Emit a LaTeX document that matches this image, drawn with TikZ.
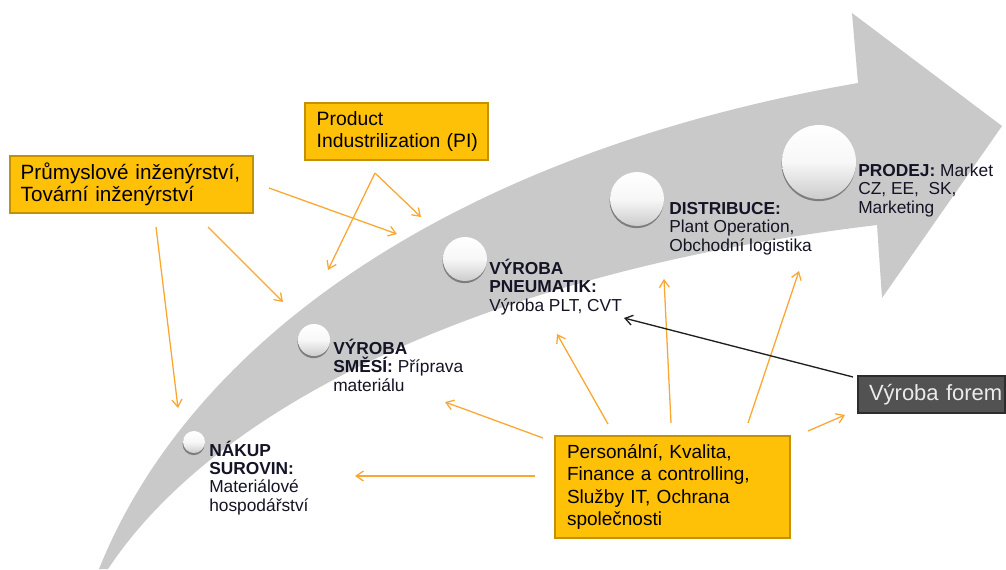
\documentclass[tikz,border=0pt]{standalone}
\usepackage{fontspec}
\setmainfont{Liberation Sans}
\usetikzlibrary{arrows.meta,calc,shadows}

\definecolor{arrowgray}{RGB}{201,201,201}
\definecolor{gold}{RGB}{255,192,8}
\definecolor{golddark}{RGB}{196,146,0}
\definecolor{goldedge}{RGB}{232,170,0}
\definecolor{linkorange}{RGB}{250,166,48}
\definecolor{labeltext}{RGB}{20,20,38}
\definecolor{moldgray}{RGB}{82,82,82}
\definecolor{molddark}{RGB}{45,45,45}

\begin{document}
\begin{tikzpicture}[x=0.75pt,y=-0.75pt,
  stageball/.style={circle, inner sep=0pt, top color=white, bottom color=black!20,
    middle color=black!3,
    drop shadow={shadow xshift=-0.3pt, shadow yshift=-1.6pt, opacity=0.55, fill=black!75}},
  stagelabel/.style={anchor=base west, inner sep=0pt, align=left, text=labeltext,
    font=\fontsize{13}{13.75}\selectfont},
  goldbox/.style={draw=golddark, line width=0.9pt, fill=gold, align=left, inner ysep=0pt,
    text=black,
    path picture={\draw[goldedge, line width=2.2pt]
      (path picture bounding box.south west) rectangle (path picture bounding box.north east);},
    drop shadow={shadow xshift=0.8pt, shadow yshift=-0.8pt, opacity=0.22, fill=black}},
  moldbox/.style={draw=molddark, line width=0.9pt, fill=moldgray, align=left, inner ysep=0pt,
    text=black!8, font=\fontsize{16.5}{18}\selectfont},
  feed/.style={draw=linkorange, line width=0.95pt, -{Straight Barb[length=5.5pt,width=7.5pt]}},
  moldlink/.style={draw=black!88, line width=1pt, -{Straight Barb[length=5.5pt,width=7.5pt]}}
]
\useasboundingbox (0,0) rectangle (1006,569);
\fill[white] (0,0) rectangle (1006,569);

% the curved process arrow
\fill[arrowgray] (99,569) .. controls (195,330) and (470,150) .. (858,83)
  -- (852,13) -- (1002,126) -- (882,298) -- (877,225)
  .. controls (500,270) and (220,400) .. (108,569) -- cycle;

% stages along the arrow
\node[stageball, minimum size=16.5pt] (bNakup) at (194,442) {};
\node[stageball, minimum size=24pt]   (bSmesi) at (314,340) {};
\node[stageball, minimum size=33pt]   (bPneu)  at (465,259) {};
\node[stageball, minimum size=40.5pt] (bDistr) at (637,199) {};
\node[stageball, minimum size=55.5pt] (bProdej) at (819,162) {};

% labels are placed by the baseline of their last line
\node[stagelabel] (tNakup) at (209,511)
  {\textbf{NÁKUP}\\\textbf{SUROVIN:}\\Materiálové\\hospodářství};
\node[stagelabel] (tSmesi) at (333,391)
  {\textbf{VÝROBA}\\\textbf{SMĚSÍ:} Příprava\\materiálu};
\node[stagelabel] (tPneu) at (489,311)
  {\textbf{VÝROBA}\\\textbf{PNEUMATIK:}\\Výroba PLT, CVT};
\node[stagelabel] (tDistr) at (669,251)
  {\textbf{DISTRIBUCE:}\\Plant Operation,\\Obchodní logistika};
\node[stagelabel] (tProdej) at (858,213)
  {\textbf{PRODEJ:} Market\\CZ, EE, \ SK,\\Marketing};

% supporting departments
\node[goldbox, font=\fontsize{15.5}{16.3}\selectfont,
  minimum width=182.25pt, minimum height=42.75pt, inner xsep=8pt, text width=166.25pt]
  (prum) at (131.5,184.5) {Průmyslové~inženýrství,\\Tovární~inženýrství};
\node[goldbox, font=\fontsize{14.5}{17.2}\selectfont,
  minimum width=137.25pt, minimum height=42.75pt, inner xsep=8.8pt, text width=119.65pt]
  (pi) at (396.5,131.5) {Product\\Industrilization~(PI)};
\node[goldbox, font=\fontsize{14.25}{16.7}\selectfont,
  minimum width=176.25pt, minimum height=76.5pt, inner xsep=9pt, text width=158.25pt]
  (pers) at (672.5,487) {Personální,~Kvalita,\\Finance~a~controlling,\\Služby~IT,~Ochrana\\společnosti};
\node[moldbox, minimum width=110.25pt, minimum height=27.75pt, inner xsep=8.25pt, text width=93.75pt]
  (forem) at (931.5,394.5) {Výroba~forem};

% free ends of the connectors
\coordinate (prumA) at (269,188);  \coordinate (prumAe) at (397,234);
\coordinate (prumB) at (208,227);  \coordinate (prumBe) at (283,302);
\coordinate (prumC) at (156,227);  \coordinate (prumCe) at (178,408);
\coordinate (piS)   at (375,173);
\coordinate (piAe)  at (328,270);  \coordinate (piBe)  at (421,217);
\coordinate (persA) at (543,438);  \coordinate (persAe) at (445,402);
\coordinate (persB) at (535,476);  \coordinate (persBe) at (355,476);
\coordinate (persC) at (608,424);  \coordinate (persCe) at (557,334);
\coordinate (persD) at (671,423);  \coordinate (persDe) at (664,279);
\coordinate (persE) at (748,423);  \coordinate (persEe) at (799,271);
\coordinate (persF) at (808,431);  \coordinate (persFe) at (845,415);
\coordinate (foremS) at (853,377); \coordinate (foremE) at (624,318);

\draw[feed] (prumA) -- (prumAe);
\draw[feed] (prumB) -- (prumBe);
\draw[feed] (prumC) -- (prumCe);
\draw[feed] (piS) -- (piAe);
\draw[feed] (piS) -- (piBe);
\draw[feed] (persA) -- (persAe);
\draw[feed] (persB) -- (persBe);
\draw[feed] (persC) -- (persCe);
\draw[feed] (persD) -- (persDe);
\draw[feed] (persE) -- (persEe);
\draw[feed] (persF) -- (persFe);
\draw[moldlink] (foremS) -- (foremE);
\end{tikzpicture}
\end{document}
